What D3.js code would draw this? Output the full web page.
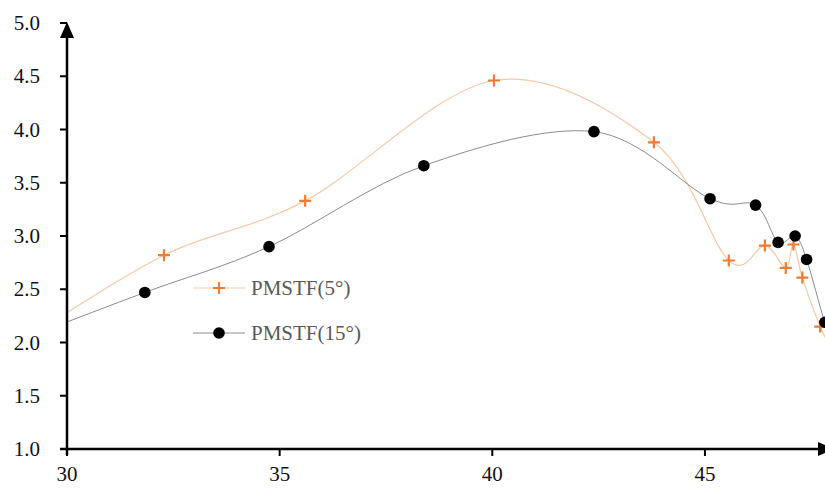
<!DOCTYPE html>
<html>
<head>
<meta charset="utf-8">
<script src="https://cdn.jsdelivr.net/npm/d3@7"></script>
<style>
  body { margin: 0; background: #fff; }
  text { font-family: "Liberation Serif", "DejaVu Serif", serif; }
</style>
</head>
<body>
<div id="vis"></div>
<script>
// series 1: PMSTF(5°)  (first point lies left of the axis, only the line shows)
var x5 = [29.0, 32.28, 35.60, 40.04, 43.80, 45.56, 46.41, 46.90, 47.08, 47.29, 47.71, 48.1];
var y5 = [2.02, 2.82, 3.33, 4.46, 3.88, 2.77, 2.91, 2.70, 2.92, 2.61, 2.15, 1.85];
// series 2: PMSTF(15°)
var x15 = [29.0, 31.83, 34.75, 38.39, 42.39, 45.12, 46.19, 46.72, 47.12, 47.39, 47.82, 48.1];
var y15 = [2.04, 2.47, 2.90, 3.66, 3.98, 3.35, 3.29, 2.94, 3.00, 2.78, 2.19, 1.95];

var xTicks = [30, 35, 40, 45];
var yTicks = [1.0, 1.5, 2.0, 2.5, 3.0, 3.5, 4.0, 4.5, 5.0];
var seriesNames = ['PMSTF(5°)', 'PMSTF(15°)'];

var width = 825;
var height = 488;
var mLeft = 67, mRight = 820, mTop = 23, mBottom = 449;

var x = d3.scaleLinear().domain([30, 30 + (mRight - mLeft) / 42.53]).range([mLeft, mRight]);
var y = d3.scaleLinear().domain([1, 5]).range([mBottom, mTop]);

var svg = d3.select('#vis').append('svg')
  .attr('width', width)
  .attr('height', height);

svg.append('defs').append('clipPath')
  .attr('id', 'plot')
  .append('rect')
  .attr('x', mLeft)
  .attr('y', 0)
  .attr('width', width - mLeft)
  .attr('height', height);

var line = d3.line()
  .x(function (d) { return x(d[0]); })
  .y(function (d) { return y(d[1]); })
  .curve(d3.curveCardinal.tension(0));

var data5 = x5.map(function (v, i) { return [v, y5[i]]; });
var data15 = x15.map(function (v, i) { return [v, y15[i]]; });

var plot = svg.append('g').attr('clip-path', 'url(#plot)');

plot.append('path')
  .attr('d', line(data5))
  .attr('fill', 'none')
  .attr('stroke', '#f8c9a8')
  .attr('stroke-width', 1.2);

plot.append('path')
  .attr('d', line(data15))
  .attr('fill', 'none')
  .attr('stroke', '#8c8c8c')
  .attr('stroke-width', 1);

function plus(g, cx, cy) {
  g.append('path')
    .attr('d', 'M' + (cx - 6) + ',' + cy + 'H' + (cx + 6) + 'M' + cx + ',' + (cy - 6) + 'V' + (cy + 6))
    .attr('stroke', '#ed7d31')
    .attr('stroke-width', 2.2)
    .attr('fill', 'none');
}

data5.forEach(function (d) { plus(plot, x(d[0]), y(d[1])); });

plot.selectAll('.dot')
  .data(data15)
  .enter()
  .append('circle')
  .attr('class', 'dot')
  .attr('cx', function (d) { return x(d[0]); })
  .attr('cy', function (d) { return y(d[1]); })
  .attr('r', 5.8)
  .attr('fill', '#000');

// axes
var axisColor = '#000';
svg.append('line')
  .attr('x1', mLeft).attr('x2', mLeft)
  .attr('y1', mBottom + 6).attr('y2', mTop + 4)
  .attr('stroke', axisColor).attr('stroke-width', 2.5);
svg.append('path')
  .attr('d', 'M' + mLeft + ',' + (mTop - 1) + 'L' + (mLeft - 7) + ',' + (mTop + 15) + 'L' + (mLeft + 7) + ',' + (mTop + 15) + 'Z')
  .attr('fill', axisColor);

svg.append('line')
  .attr('x1', mLeft - 7).attr('x2', mRight + 2)
  .attr('y1', mBottom).attr('y2', mBottom)
  .attr('stroke', axisColor).attr('stroke-width', 2.5);
svg.append('path')
  .attr('d', 'M' + (mRight + 14) + ',' + mBottom + 'L' + (mRight - 2) + ',' + (mBottom - 7) + 'L' + (mRight - 2) + ',' + (mBottom + 7) + 'Z')
  .attr('fill', axisColor);

svg.selectAll('.ytick')
  .data(yTicks)
  .enter()
  .append('line')
  .attr('x1', mLeft - 7).attr('x2', mLeft)
  .attr('y1', function (d) { return y(d); })
  .attr('y2', function (d) { return y(d); })
  .attr('stroke', axisColor).attr('stroke-width', 2);

svg.selectAll('.ylab')
  .data(yTicks)
  .enter()
  .append('text')
  .attr('x', mLeft - 27)
  .attr('y', function (d) { return y(d) + 7; })
  .attr('text-anchor', 'end')
  .attr('font-size', 21)
  .attr('fill', '#111')
  .text(function (d) { return d.toFixed(1); });

svg.selectAll('.xtick')
  .data(xTicks)
  .enter()
  .append('line')
  .attr('x1', function (d) { return x(d); })
  .attr('x2', function (d) { return x(d); })
  .attr('y1', mBottom).attr('y2', mBottom + 7)
  .attr('stroke', axisColor).attr('stroke-width', 2);

svg.selectAll('.xlab')
  .data(xTicks)
  .enter()
  .append('text')
  .attr('x', function (d) { return x(d); })
  .attr('y', mBottom + 32)
  .attr('text-anchor', 'middle')
  .attr('font-size', 21)
  .attr('fill', '#111')
  .text(function (d) { return d; });

// legend
var legend = svg.append('g');
var ly = [288, 333];
legend.append('line')
  .attr('x1', 193).attr('x2', 245).attr('y1', ly[0]).attr('y2', ly[0])
  .attr('stroke', '#f8c9a8').attr('stroke-width', 1.2);
plus(legend, 219, ly[0]);
legend.append('line')
  .attr('x1', 193).attr('x2', 245).attr('y1', ly[1]).attr('y2', ly[1])
  .attr('stroke', '#8c8c8c').attr('stroke-width', 1);
legend.append('circle')
  .attr('cx', 219).attr('cy', ly[1]).attr('r', 5.8).attr('fill', '#000');

legend.selectAll('.ltext')
  .data(seriesNames)
  .enter()
  .append('text')
  .attr('x', 251)
  .attr('y', function (d, i) { return ly[i] + 7; })
  .attr('font-size', 21)
  .attr('fill', '#595959')
  .text(function (d) { return d; });
</script>
</body>
</html>
